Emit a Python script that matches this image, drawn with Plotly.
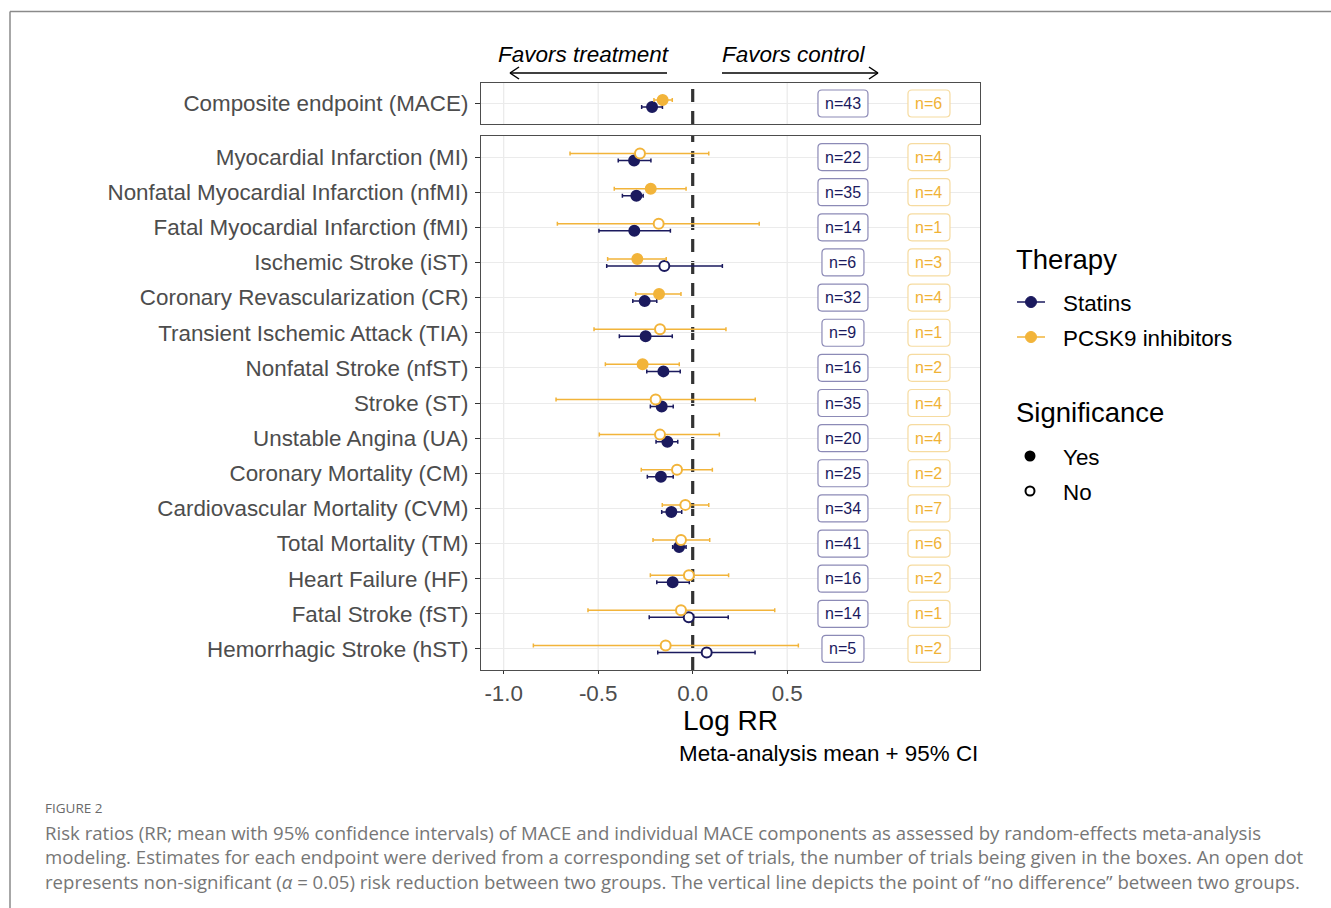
import plotly.graph_objects as go

W, H = 1331, 908

# ---------------- data ----------------
endpoints = [
    "Myocardial Infarction (MI)",
    "Nonfatal Myocardial Infarction (nfMI)",
    "Fatal Myocardial Infarction (fMI)",
    "Ischemic Stroke (iST)",
    "Coronary Revascularization (CR)",
    "Transient Ischemic Attack (TIA)",
    "Nonfatal Stroke (nfST)",
    "Stroke (ST)",
    "Unstable Angina (UA)",
    "Coronary Mortality (CM)",
    "Cardiovascular Mortality (CVM)",
    "Total Mortality (TM)",
    "Heart Failure (HF)",
    "Fatal Stroke (fST)",
    "Hemorrhagic Stroke (hST)",
]
statin_mean = [-0.31, -0.298, -0.309, -0.15, -0.254, -0.249, -0.155, -0.164, -0.134, -0.168, -0.113, -0.072, -0.106, -0.021, 0.074]
statin_lo   = [-0.394, -0.372, -0.496, -0.455, -0.317, -0.388, -0.243, -0.224, -0.194, -0.24, -0.164, -0.106, -0.19, -0.23, -0.185]
statin_hi   = [-0.221, -0.262, -0.118, 0.157, -0.19, -0.108, -0.066, -0.103, -0.079, -0.103, -0.058, -0.035, -0.018, 0.188, 0.33]
statin_sig  = [True, True, True, False, True, True, True, True, True, True, True, True, True, False, False]
statin_n    = [22, 35, 14, 6, 32, 9, 16, 35, 20, 25, 34, 41, 16, 14, 5]

pcsk9_mean = [-0.279, -0.222, -0.18, -0.293, -0.178, -0.173, -0.265, -0.196, -0.173, -0.083, -0.039, -0.062, -0.02, -0.062, -0.143]
pcsk9_lo   = [-0.649, -0.415, -0.716, -0.45, -0.302, -0.522, -0.462, -0.723, -0.494, -0.272, -0.161, -0.21, -0.224, -0.554, -0.843]
pcsk9_hi   = [0.085, -0.035, 0.352, -0.14, -0.062, 0.176, -0.071, 0.331, 0.141, 0.104, 0.085, 0.09, 0.19, 0.434, 0.559]
pcsk9_sig  = [False, True, False, True, True, False, True, False, False, False, False, False, False, False, False]
pcsk9_n    = [4, 4, 1, 3, 4, 1, 2, 4, 4, 2, 7, 6, 2, 1, 2]

mace_label = "Composite endpoint (MACE)"
mace_statin = {"mean": -0.215, "lo": -0.27, "hi": -0.16, "sig": True, "n": 43}
mace_pcsk9 = {"mean": -0.159, "lo": -0.205, "hi": -0.108, "sig": True, "n": 6}

x_ticks = [-1.0, -0.5, 0.0, 0.5]
x_ticklabels = ["-1.0", "-0.5", "0.0", "0.5"]

# ---------------- style ----------------
NAVY = "#1b1a5e"
GOLD = "#f2b43a"
NAVY_BOX = "#8c8ab6"
GOLD_BOX = "#f6dba0"
GOLD_TXT = "#f0b236"
GRID = "#ebebeb"
FONT = "Liberation Sans, Arial, sans-serif"
DODGE = 0.1
N_X_STATIN = 0.795
N_X_PCSK9 = 1.25
TXT = 22.4


def px(x):
    return x / W


def py(y):
    return 1 - y / H


fig = go.Figure()


def add_series(means, los, his, sigs, ys, color, xa, ya):
    fig.add_trace(go.Scatter(
        x=means, y=ys, mode="markers", xaxis=xa, yaxis=ya, showlegend=False,
        marker=dict(size=10, color=[color if s else "white" for s in sigs],
                    line=dict(color=color, width=2)),
        error_x=dict(type="data", symmetric=False,
                     array=[h - m for h, m in zip(his, means)],
                     arrayminus=[m - l for m, l in zip(means, los)],
                     color=color, thickness=1.5, width=2),
        hoverinfo="skip",
    ))


idx = list(range(len(endpoints)))
add_series(statin_mean, statin_lo, statin_hi, statin_sig, [i + DODGE for i in idx], NAVY, "x", "y")
add_series(pcsk9_mean, pcsk9_lo, pcsk9_hi, pcsk9_sig, [i - DODGE for i in idx], GOLD, "x", "y")
add_series([mace_statin["mean"]], [mace_statin["lo"]], [mace_statin["hi"]], [mace_statin["sig"]], [DODGE], NAVY, "x2", "y2")
add_series([mace_pcsk9["mean"]], [mace_pcsk9["lo"]], [mace_pcsk9["hi"]], [mace_pcsk9["sig"]], [-DODGE], GOLD, "x2", "y2")

shapes = []
annotations = []


def note(x, y, text, size, color="black", xanchor="center", family=FONT, xref="paper", yref="paper"):
    annotations.append(dict(x=x, y=y, xref=xref, yref=yref, text=text, showarrow=False,
                            xanchor=xanchor, yanchor="middle",
                            font=dict(family=family, size=size, color=color)))


def rounded_box(w, h, r=4):
    a, b = w / 2, h / 2
    return (f"M {-a + r},{-b} L {a - r},{-b} Q {a},{-b} {a},{-b + r} "
            f"L {a},{b - r} Q {a},{b} {a - r},{b} L {-a + r},{b} Q {-a},{b} {-a},{b - r} "
            f"L {-a},{-b + r} Q {-a},{-b} {-a + r},{-b} Z")


def n_label(xv, yv, n, xr, yr, border, txtcol):
    w = 50 if n >= 10 else 42
    shapes.append(dict(type="path", xref=xr, yref=yr, xsizemode="pixel", ysizemode="pixel",
                       xanchor=xv, yanchor=yv, path=rounded_box(w, 27),
                       line=dict(color=border, width=1.2), fillcolor="white", layer="above"))
    note(xv, yv, f"n={n}", 16, txtcol, xref=xr, yref=yr)


# vertical grid lines (except at 0, where the dashed reference line sits) and zero lines
for xr, yr in (("x", "y domain"), ("x2", "y2 domain")):
    for gv in x_ticks:
        if gv != 0:
            shapes.append(dict(type="line", xref=xr, yref=yr, x0=gv, x1=gv, y0=0, y1=1,
                               line=dict(color=GRID, width=1.3), layer="below"))
    shapes.append(dict(type="line", xref=xr, yref=yr, x0=0, x1=0, y0=0, y1=1,
                       line=dict(color="#333333", width=3.2, dash="13px,9px"), layer="below"))

for i in idx:
    n_label(N_X_STATIN, i, statin_n[i], "x", "y", NAVY_BOX, NAVY)
    n_label(N_X_PCSK9, i, pcsk9_n[i], "x", "y", GOLD_BOX, GOLD_TXT)
n_label(N_X_STATIN, 0, mace_statin["n"], "x2", "y2", NAVY_BOX, NAVY)
n_label(N_X_PCSK9, 0, mace_pcsk9["n"], "x2", "y2", GOLD_BOX, GOLD_TXT)

# Favors arrows
ARROW_Y = 73
for x0, x1 in ((667, 510), (722, 878)):
    shapes.append(dict(type="line", xref="paper", yref="paper", x0=px(x0), x1=px(x1),
                       y0=py(ARROW_Y), y1=py(ARROW_Y), line=dict(color="black", width=1.5)))
    d = 9 if x1 < x0 else -9
    for dy in (-6, 6):
        shapes.append(dict(type="line", xref="paper", yref="paper", x0=px(x1), x1=px(x1 + d),
                           y0=py(ARROW_Y), y1=py(ARROW_Y + dy), line=dict(color="black", width=1.5)))
note(px(584), py(55), "<i>Favors treatment</i>", 22.5)
note(px(794), py(55), "<i>Favors control</i>", 22.5)

# axis title & subtitle
note(px(730.5), py(720), "Log RR", 28)
note(px(980), py(753), "Meta-analysis mean + 95% CI", TXT, xanchor="right")

# manual legend
LX = 1014
note(px(LX), py(259), "Therapy", 27.5, xanchor="left")
note(px(LX), py(413), "Significance", 27.5, xanchor="left")
for label, yy, col in (("Statins", 302, NAVY), ("PCSK9 inhibitors", 337, GOLD)):
    shapes.append(dict(type="line", xref="paper", yref="paper", x0=px(1017), x1=px(1045),
                       y0=py(yy), y1=py(yy), line=dict(color=col, width=1.5)))
    shapes.append(dict(type="circle", xref="paper", yref="paper", xsizemode="pixel", ysizemode="pixel",
                       xanchor=px(1031), yanchor=py(yy), x0=-5.5, x1=5.5, y0=-5.5, y1=5.5,
                       fillcolor=col, line=dict(color=col, width=1)))
    note(px(1061), py(yy + 1), label, TXT, xanchor="left")
for label, yy, fill in (("Yes", 456, "black"), ("No", 491, "white")):
    shapes.append(dict(type="circle", xref="paper", yref="paper", xsizemode="pixel", ysizemode="pixel",
                       xanchor=px(1030), yanchor=py(yy), x0=-4.5, x1=4.5, y0=-4.5, y1=4.5,
                       fillcolor=fill, line=dict(color="black", width=2)))
    note(px(1061), py(yy + 1), label, TXT, xanchor="left")

# outer frame
shapes.append(dict(type="line", xref="paper", yref="paper", x0=px(10), x1=1, y0=py(11.5), y1=py(11.5),
                   line=dict(color="#8a8a8a", width=1.5)))
shapes.append(dict(type="line", xref="paper", yref="paper", x0=px(10), x1=px(10), y0=py(11.5), y1=0,
                   line=dict(color="#8a8a8a", width=1.5)))

# caption
CAP_FONT = "Open Sans, Lato, sans-serif"
note(px(43), py(808), "FIGURE 2", 13.5, "#6a6a6a", xanchor="left", family=CAP_FONT)
caption_lines = [
    "Risk ratios (RR; mean with 95% confidence intervals) of MACE and individual MACE components as assessed by random-effects meta-analysis",
    "modeling. Estimates for each endpoint were derived from a corresponding set of trials, the number of trials being given in the boxes. An open dot",
    "represents non-significant (<i>α</i> = 0.05) risk reduction between two groups. The vertical line depicts the point of “no difference” between two groups.",
]
for k, line in enumerate(caption_lines):
    note(px(43), py(832 + 24.5 * k), line, 18.6, "#767676", xanchor="left", family=CAP_FONT)

XDOM = [px(481), px(980)]
XRANGE = [-1.12, 1.52]
axis_common = dict(showline=True, mirror=True, linecolor="#4d4d4d", linewidth=1.3,
                   gridcolor=GRID, gridwidth=1.3, zeroline=False)

fig.update_layout(
    width=W, height=H, margin=dict(l=0, r=0, t=0, b=0),
    paper_bgcolor="white", plot_bgcolor="white", showlegend=False,
    xaxis=dict(domain=XDOM, range=XRANGE, anchor="y", tickvals=x_ticks, ticktext=x_ticklabels,
               ticks="outside", ticklen=3, tickcolor="#333333", showgrid=False,
               tickfont=dict(family=FONT, size=TXT, color="#4d4d4d"), **axis_common),
    xaxis2=dict(domain=XDOM, range=XRANGE, anchor="y2", matches="x", tickvals=x_ticks,
                showticklabels=False, ticks="", showgrid=False, **axis_common),
    yaxis=dict(domain=[py(670), py(136)], range=[len(endpoints) - 0.4, -0.6], anchor="x",
               tickvals=idx, ticktext=endpoints, ticks="outside", ticklen=5, tickcolor="#333333",
               ticklabelstandoff=2,
               tickfont=dict(family=FONT, size=TXT, color="#4d4d4d"), **axis_common),
    yaxis2=dict(domain=[py(124), py(83)], range=[0.6, -0.6], anchor="x2",
                tickvals=[0], ticktext=[mace_label], ticks="outside", ticklen=5, tickcolor="#333333",
                ticklabelstandoff=2,
                tickfont=dict(family=FONT, size=TXT, color="#4d4d4d"), **axis_common),
    shapes=shapes, annotations=annotations,
)

fig.write_html("out.html", config={"displayModeBar": False},
               post_script="document.body.style.margin='0';document.body.style.overflow='hidden';")
